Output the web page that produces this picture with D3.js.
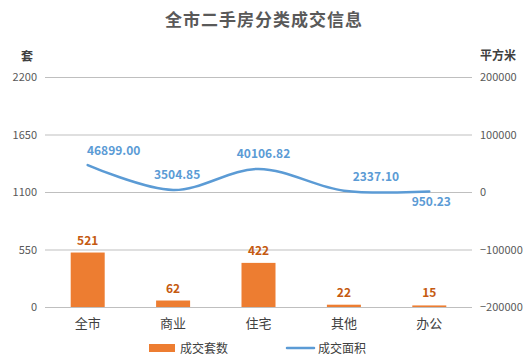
<!DOCTYPE html>
<html>
<head>
<meta charset="utf-8">
<script src="https://cdn.jsdelivr.net/npm/d3@7"></script>
<style>
  body { margin: 0; background: #fff; }
  text { font-family: "Noto Sans CJK SC", "Noto Sans", sans-serif; }
</style>
</head>
<body>
<div id="chart"></div>
<script>
// data
const categories = ["全市", "商业", "住宅", "其他", "办公"];
const dealCount = [521, 62, 422, 22, 15];
const dealArea = [46899.00, 3504.85, 40106.82, 2337.10, 950.23];
const leftTicks = [0, 550, 1100, 1650, 2200];
const rightTicks = [-200000, -100000, 0, 100000, 200000];

// label nudges for the area labels (dx, dy), as placed in the original
const areaLabelShift = [[26, -10], [4, -11], [5, -11], [32, -10], [2, 15]];

const width = 528, height = 362;
const plotL = 45, plotR = 472, plotT = 77, plotB = 307;

const svg = d3.select("#chart").append("svg")
  .attr("width", width)
  .attr("height", height);

const x = d3.scaleBand().domain(categories).range([plotL, plotR]);
const yL = d3.scaleLinear().domain([0, 2200]).range([plotB, plotT]);
const yR = d3.scaleLinear().domain([-200000, 200000]).range([plotB, plotT]);

// title
svg.append("text")
  .attr("x", 264).attr("y", 26)
  .attr("text-anchor", "middle")
  .attr("font-size", 17).attr("font-weight", "bold")
  .attr("fill", "#595959")
  .attr("letter-spacing", 1)
  .text("全市二手房分类成交信息");

// axis titles
svg.append("text").attr("x", 27).attr("y", 61)
  .attr("text-anchor", "middle").attr("font-size", 12).attr("font-weight", "bold")
  .attr("fill", "#404040").text("套");
svg.append("text").attr("x", 498).attr("y", 60)
  .attr("text-anchor", "middle").attr("font-size", 12).attr("font-weight", "bold")
  .attr("fill", "#404040").text("平方米");

// gridlines
svg.append("g").selectAll("line").data(leftTicks).join("line")
  .attr("x1", plotL).attr("x2", plotR)
  .attr("y1", d => yL(d) + 0.5).attr("y2", d => yL(d) + 0.5)
  .attr("stroke", "#bfbfbf").attr("stroke-width", 1);

// left axis labels
const axL = svg.append("g").attr("transform", `translate(${plotL},0)`)
  .call(d3.axisLeft(yL).tickValues(leftTicks).tickSize(0).tickPadding(8)
    .tickFormat(d3.format("d")));
axL.select(".domain").remove();
axL.selectAll("text").attr("font-size", 11).attr("fill", "#595959")
  .attr("font-family", "'Liberation Sans', sans-serif");

// right axis labels
const axR = svg.append("g").attr("transform", `translate(${plotR},0)`)
  .call(d3.axisRight(yR).tickValues(rightTicks).tickSize(0).tickPadding(8)
    .tickFormat(d => d < 0 ? "\u2212" + Math.abs(d) : d));
axR.select(".domain").remove();
axR.selectAll("text").attr("font-size", 11).attr("fill", "#595959")
  .attr("font-family", "'Liberation Sans', sans-serif");

// category labels
svg.append("g").selectAll("text").data(categories).join("text")
  .attr("x", d => x(d) + x.bandwidth() / 2)
  .attr("y", plotB + 21)
  .attr("text-anchor", "middle")
  .attr("font-size", 13).attr("fill", "#404040")
  .text(d => d);

// bars
const barW = 34;
svg.append("g").selectAll("rect").data(dealCount).join("rect")
  .attr("x", (d, i) => x(categories[i]) + x.bandwidth() / 2 - barW / 2)
  .attr("y", d => yL(d))
  .attr("width", barW)
  .attr("height", d => yL(0) - yL(d))
  .attr("fill", "#ed7d31");

svg.append("g").selectAll("text").data(dealCount).join("text")
  .attr("x", (d, i) => x(categories[i]) + x.bandwidth() / 2)
  .attr("y", d => yL(d) - 8)
  .attr("text-anchor", "middle")
  .attr("font-size", 12).attr("font-weight", "bold")
  .attr("fill", "#c55a11")
  .text(d => d);

// line
const line = d3.line()
  .x((d, i) => x(categories[i]) + x.bandwidth() / 2)
  .y(d => yR(d))
  .curve(d3.curveCatmullRom.alpha(0.5));

svg.append("path").datum(dealArea)
  .attr("d", line)
  .attr("fill", "none")
  .attr("stroke", "#5b9bd5")
  .attr("stroke-width", 2.5)
  .attr("stroke-linecap", "round");

svg.append("g").selectAll("text").data(dealArea).join("text")
  .attr("x", (d, i) => x(categories[i]) + x.bandwidth() / 2 + areaLabelShift[i][0])
  .attr("y", (d, i) => yR(d) + areaLabelShift[i][1])
  .attr("text-anchor", "middle")
  .attr("font-size", 12).attr("font-weight", "bold")
  .attr("fill", "#5b9bd5")
  .text(d => d.toFixed(2));

// legend
const lg = svg.append("g");
lg.append("rect").attr("x", 149).attr("y", 344).attr("width", 26).attr("height", 8)
  .attr("fill", "#ed7d31");
lg.append("text").attr("x", 180).attr("y", 353).attr("font-size", 12)
  .attr("fill", "#404040").text("成交套数");
lg.append("line").attr("x1", 287).attr("x2", 314).attr("y1", 348).attr("y2", 348)
  .attr("stroke", "#5b9bd5").attr("stroke-width", 2.5).attr("stroke-linecap", "round");
lg.append("text").attr("x", 318).attr("y", 353).attr("font-size", 12)
  .attr("fill", "#404040").text("成交面积");
</script>
</body>
</html>
